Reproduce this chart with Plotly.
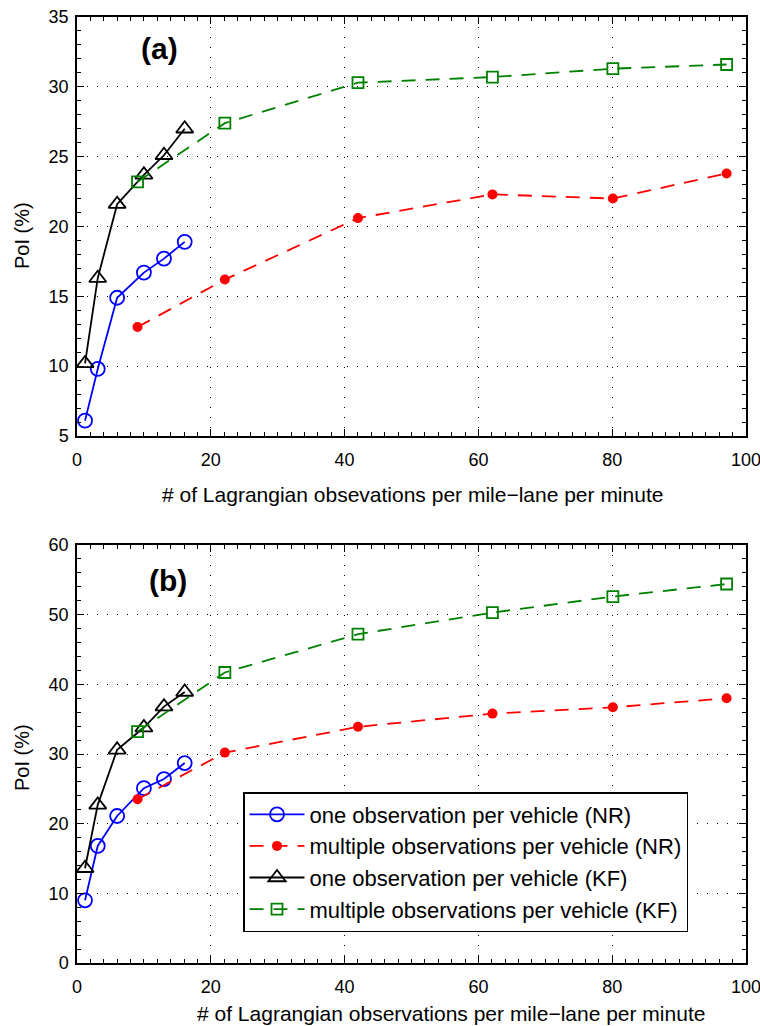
import plotly.graph_objects as go

# ---- data ----
x_one = [1.2, 3.1, 6.0, 10.0, 13.0, 16.1]
x_multi = [9.05, 22.1, 42.0, 62.1, 80.1, 97.1]

# panel (a)
a_nr_one = [6.1, 9.8, 14.9, 16.7, 17.7, 18.9]
a_nr_multi = [12.8, 16.2, 20.6, 22.3, 22.0, 23.8]
a_kf_one = [10.2, 16.3, 21.6, 23.7, 25.1, 27.0]
a_kf_multi = [23.2, 27.4, 30.3, 30.7, 31.3, 31.6]

# panel (b)
b_nr_one = [9.0, 16.8, 21.1, 25.1, 26.4, 28.7]
b_nr_multi = [23.5, 30.2, 33.9, 35.8, 36.7, 38.0]
b_kf_one = [13.6, 22.7, 30.6, 33.8, 36.8, 38.9]
b_kf_multi = [33.2, 41.7, 47.2, 50.3, 52.6, 54.4]

names = ["one observation per vehicle (NR)",
         "multiple observations per vehicle (NR)",
         "one observation per vehicle (KF)",
         "multiple observations per vehicle (KF)"]

xtitle_a = "# of Lagrangian obsevations per mile\u2212lane per minute"
xtitle_b = "# of Lagrangian observations per mile\u2212lane per minute"
ytitle = "PoI (%)"

FONT = "Liberation Sans, Arial, sans-serif"

styles = [
    dict(color="blue", dash="solid", symbol="circle-open", size=14, mw=1.8),
    dict(color="red", dash="14px,10px", symbol="circle", size=10, mw=0),
    dict(color="black", dash="solid", symbol="triangle-up-open", size=15, mw=1.8),
    dict(color="green", dash="14px,10px", symbol="square-open", size=11, mw=1.8),
]

fig = go.Figure()

def add_panel(ys, xa, ya, showleg):
    xs_list = [x_one, x_multi, x_one, x_multi]
    for i, (xs, y) in enumerate(zip(xs_list, ys)):
        s = styles[i]
        fig.add_trace(go.Scatter(
            x=xs, y=y, mode="lines+markers", name=names[i],
            xaxis=xa, yaxis=ya, showlegend=showleg,
            line=dict(color=s["color"], width=1.8, dash=s["dash"]),
            marker=dict(symbol=s["symbol"], size=s["size"], color=s["color"],
                        line=dict(color=s["color"], width=s["mw"])),
        ))

add_panel([a_nr_one, a_nr_multi, a_kf_one, a_kf_multi], "x", "y", False)
add_panel([b_nr_one, b_nr_multi, b_kf_one, b_kf_multi], "x2", "y2", True)

W, H = 760, 1026
xdom = [77 / W, 746 / W]

def axis_common():
    return dict(
        showline=True, linecolor="black", linewidth=1.5, mirror="allticks",
        ticks="inside", ticklen=7, tickwidth=1, tickcolor="black",
        showgrid=True, gridcolor="black", gridwidth=1, griddash="1px,9px",
        zeroline=False, automargin=False, ticklabeloverflow="allow",
        tickfont=dict(family=FONT, size=18, color="black"),
    )

def minor(d):
    return dict(dtick=d, ticks="inside", ticklen=4, tickcolor="black", showgrid=False)

xa = axis_common()
xa.update(range=[0, 100], dtick=20, domain=xdom, anchor="y", minor=minor(2),
          ticklabelstandoff=7)
ya = axis_common()
ya.update(range=[5, 35], dtick=5, domain=[(H - 436) / H, (H - 17) / H], anchor="x", minor=minor(1),
          ticklabelstandoff=3)
xb = axis_common()
xb.update(range=[0, 100], dtick=20, domain=xdom, anchor="y2", minor=minor(2),
          ticklabelstandoff=7)
yb = axis_common()
yb.update(range=[0, 60], dtick=10, domain=[(H - 963) / H, (H - 545) / H], anchor="x2", minor=minor(2),
          ticklabelstandoff=3)

def ann(text, x, y, size, angle=0):
    return dict(text=text, x=x / W, y=(H - y) / H, xref="paper", yref="paper",
                xanchor="center", yanchor="middle", showarrow=False, textangle=angle,
                font=dict(family=FONT, size=size, color="black"))

fig.update_layout(
    width=W, height=H,
    margin=dict(l=0, r=0, t=0, b=0, autoexpand=False),
    paper_bgcolor="white", plot_bgcolor="white",
    font=dict(family=FONT, size=18, color="black"),
    xaxis=xa, yaxis=ya, xaxis2=xb, yaxis2=yb,
    legend=dict(
        x=243 / W, y=(H - 792) / H, xanchor="left", yanchor="top",
        bordercolor="black", borderwidth=1.5, bgcolor="white",
        font=dict(family=FONT, size=22, color="black"),
        tracegroupgap=0, itemwidth=55,
    ),
    annotations=[
        ann("<b>(a)</b>", 159, 48, 30),
        ann("<b>(b)</b>", 168, 580, 30),
        ann(xtitle_a, 412, 494, 21),
        ann(xtitle_b, 451, 1013, 21),
        ann(ytitle, 22, 236, 20, -90),
        ann(ytitle, 22, 758, 20, -90),
    ],
)

fig.write_html("out.html", config={"displayModeBar": False},
               post_script="document.body.style.margin='0';document.body.style.overflow='hidden';")
